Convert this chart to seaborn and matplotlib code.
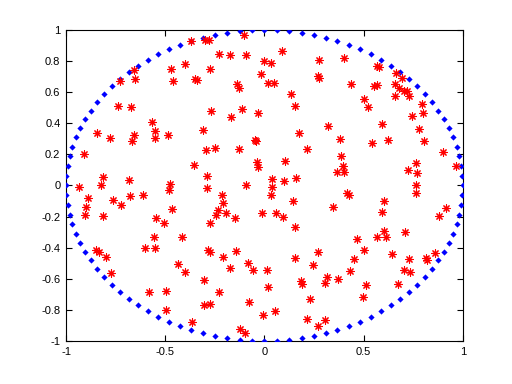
import numpy as np
import pandas as pd
import matplotlib
matplotlib.use("Agg")
import matplotlib.pyplot as plt
import seaborn as sns

# Blue circle: 100 equally spaced unit-circle samples
n_circle = 100
angles = np.linspace(0, 2 * np.pi, n_circle + 1)[:-1]
circle_x = np.cos(angles)
circle_y = np.sin(angles)

# Red points
red_x = [-0.656, -0.726, -0.651, -0.740, -0.671, -0.567, -0.554, -0.844, -0.780, -0.656,
         -0.666, -0.550, -0.908, -0.812, -0.683, -0.822, -0.933, -0.888, -0.762, -0.676,
         -0.612, -0.721, -0.898, -0.903, -0.812, -0.545, -0.506, -0.555, -0.847, -0.832,
         -0.797, -0.601, -0.550, -0.775, -0.580, -0.495, -0.495,
         -0.369, -0.300, -0.280, -0.102, -0.228, -0.172, -0.092, -0.002, -0.399, -0.470,
         -0.273, -0.018, -0.459, -0.349, -0.342, -0.137, -0.127, -0.268, -0.112, -0.167,
         -0.031, -0.308,
         0.090, 0.034, 0.276, 0.402, 0.271, 0.276, 0.019, 0.049, 0.437, 0.135,
         0.502, 0.155, 0.321, 0.175,
         0.567, 0.578, 0.664, 0.694, 0.550, 0.567, 0.659, 0.679, 0.704, 0.716,
         0.729, 0.659, 0.523, 0.795, 0.800, 0.745, 0.593, 0.780,
         -0.485, -0.049, -0.043, -0.293, -0.248, -0.127, -0.354, -0.036, -0.030, -0.288,
         -0.475, -0.480, -0.288, -0.092, -0.213, -0.208, -0.236, -0.243, -0.192, -0.464,
         -0.147, -0.010, -0.273, -0.414,
         0.382, 0.216, 0.387, 0.105, 0.397, 0.367, 0.399, 0.039, 0.039, 0.100,
         0.160, 0.034, 0.417, 0.424, 0.145, 0.345, 0.059, 0.095, 0.155,
         0.540, 0.624, 0.805, 0.901, 0.963, 0.765, 0.724, 0.770, 0.765, 0.765,
         0.604, 0.593, 0.916, 0.881, 0.604, 0.709, 0.568, 0.614,
         -0.283, -0.276, -0.142, -0.208, -0.434, -0.399, -0.172, -0.082, -0.056, -0.303,
         -0.228, -0.303, -0.275, -0.077, -0.364, -0.009, -0.122, -0.097,
         0.468, 0.504, 0.271, 0.155, 0.452, 0.246, 0.014, 0.432, 0.316, 0.372,
         0.185, 0.190, 0.306, 0.019, 0.513, 0.499, 0.231, 0.054, 0.216, 0.271, 0.306,
         0.644, 0.729, 0.815, 0.820, 0.860, 0.703, 0.735, 0.674]
red_y = [0.741, 0.670, 0.683, 0.509, 0.505, 0.406, 0.349, 0.340, 0.305, 0.323,
         0.284, 0.305, 0.201, 0.053, 0.033, 0.001, -0.012, -0.082, -0.095, -0.069,
         -0.061, -0.127, -0.140, -0.192, -0.198, -0.211, -0.243, -0.329, -0.417, -0.430,
         -0.462, -0.404, -0.404, -0.561, -0.687, -0.680, -0.803,
         0.929, 0.934, 0.934, 0.968, 0.844, 0.837, 0.837, 0.801, 0.779, 0.747,
         0.747, 0.715, 0.670, 0.683, 0.677, 0.651, 0.625, 0.477, 0.492, 0.441,
         0.464, 0.354,
         0.863, 0.786, 0.805, 0.818, 0.704, 0.689, 0.657, 0.657, 0.651, 0.586,
         0.555, 0.509, 0.381, 0.340,
         0.768, 0.760, 0.723, 0.689, 0.638, 0.648, 0.651, 0.625, 0.608, 0.608,
         0.574, 0.574, 0.505, 0.522, 0.464, 0.447, 0.394, 0.363,
         0.323, 0.291, 0.284, 0.226, 0.241, 0.233, 0.130, 0.149, 0.119, 0.059,
         0.010, -0.031, -0.018, 0.003, -0.063, -0.114, -0.158, -0.192, -0.177, -0.153,
         -0.211, -0.178, -0.243, -0.329,
         0.297, 0.233, 0.188, 0.156, 0.123, 0.085, 0.085, 0.040, -0.008, 0.027,
         0.046, -0.063, -0.050, -0.063, -0.102, -0.140, -0.177, -0.205, -0.269,
         0.271, 0.291, 0.284, 0.214, 0.123, 0.143, 0.098, 0.078, 0.001, -0.050,
         -0.102, -0.170, -0.147, -0.198, -0.295, -0.302, -0.333, -0.333,
         -0.417, -0.430, -0.423, -0.462, -0.507, -0.558, -0.532, -0.500, -0.545, -0.610,
         -0.687, -0.770, -0.762, -0.751, -0.880, -0.836, -0.925, -0.950,
         -0.346, -0.416, -0.430, -0.468, -0.475, -0.513, -0.545, -0.552, -0.590, -0.603,
         -0.616, -0.635, -0.629, -0.655, -0.642, -0.717, -0.732, -0.809, -0.860, -0.905, -0.867,
         -0.442, -0.475, -0.468, -0.477, -0.436, -0.545, -0.558, -0.635]

x_ticks = [-1, -0.5, 0, 0.5, 1]
x_tick_labels = ["-1", "-0.5", "0", "0.5", "1"]
y_ticks = [-1, -0.8, -0.6, -0.4, -0.2, 0, 0.2, 0.4, 0.6, 0.8, 1]
y_tick_labels = ["-1", "-0.8", "-0.6", "-0.4", "-0.2", "0", "0.2", "0.4", "0.6", "0.8", "1"]

circle_df = pd.DataFrame({"x": circle_x, "y": circle_y})
red_df = pd.DataFrame({"x": red_x, "y": red_y})

sns.set_style("white")
plt.rcParams["font.family"] = ["Liberation Sans", "DejaVu Sans"]

fig = plt.figure(figsize=(5.12, 3.84), dpi=100)
ax = fig.add_axes([0.129, 0.112, 0.775, 0.81])

sns.scatterplot(data=circle_df, x="x", y="y", ax=ax, color="#0000ff",
                marker="D", s=10, linewidth=0, zorder=3)
sns.scatterplot(data=red_df, x="x", y="y", ax=ax, color="#ff0000",
                marker=(8, 2, 0), s=28, linewidth=0.8, zorder=4)

ax.set_xlim(-1, 1)
ax.set_ylim(-1, 1)
ax.set_xticks(x_ticks)
ax.set_xticklabels(x_tick_labels)
ax.set_yticks(y_ticks)
ax.set_yticklabels(y_tick_labels)
ax.set_xlabel("")
ax.set_ylabel("")
for sp in ax.spines.values():
    sp.set_visible(True)
    sp.set_color("black")
    sp.set_linewidth(0.8)
ax.tick_params(direction="in", length=4, width=0.8, top=True, right=True,
               bottom=True, left=True, labelsize=8, colors="black", pad=4)

fig.savefig("out.png", dpi=100)
